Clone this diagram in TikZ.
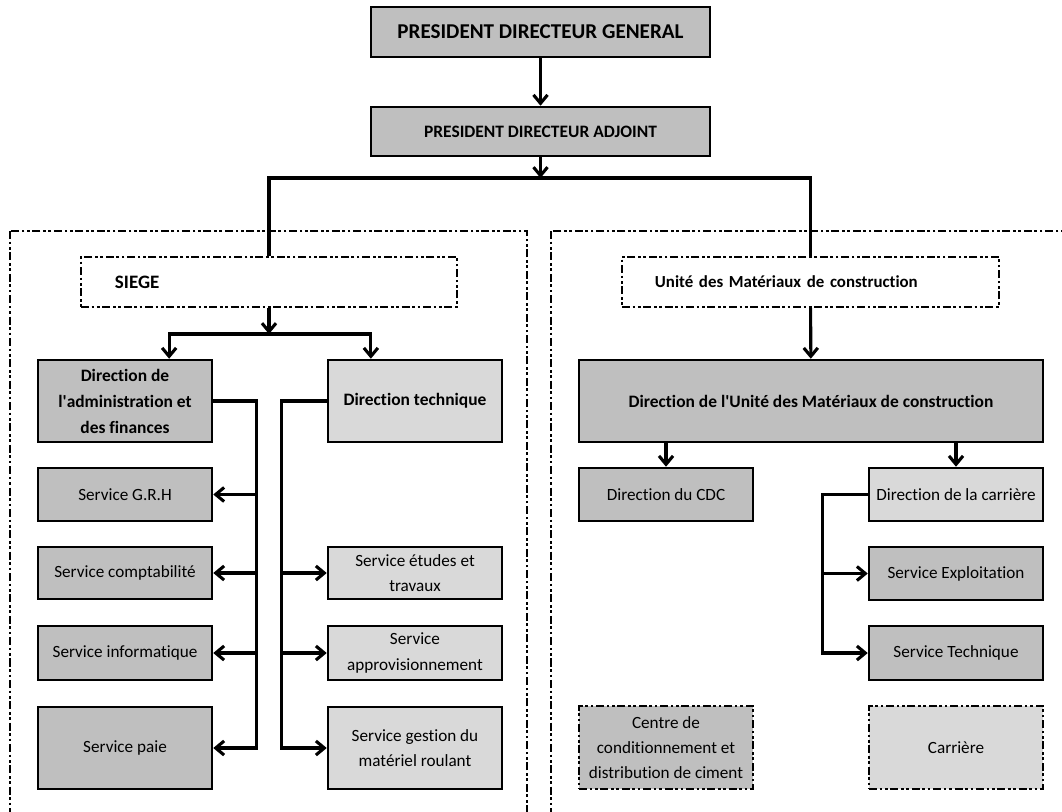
\documentclass[tikz,border=0pt]{standalone}
\usepackage{fontspec}
\setmainfont{Carlito}[Ligatures=CommonOff]
\usetikzlibrary{arrows.meta,calc}
\definecolor{boxgray}{RGB}{191,191,191}
\definecolor{boxlight}{RGB}{217,217,217}

\begin{document}
\begin{tikzpicture}[x=0.025cm,y=-0.025cm,
    box/.style={draw,line width=1.8pt,fill=boxgray,align=center,inner sep=0pt,font=\fontsize{12.2}{18}\selectfont},
    lbox/.style={box,fill=boxlight},
    hd/.style={font=\fontsize{12.4}{18.5}\selectfont\bfseries},
    wh/.style 2 args={minimum width=#1*0.025cm,minimum height=#2*0.025cm},
    dashdot/.style={line width=1.6pt,dash pattern=on 5.7pt off 1.9pt on 1.9pt off 1.9pt on 1.9pt off 1.9pt},
    link/.style={line width=2.2pt},
    arr/.style={link,-{Straight Barb[length=6pt,width=10pt]}}]
            \useasboundingbox (0,0) rectangle (1062,811); \clip (0,0) rectangle (1062,811);
            \draw[dashdot] (10,231) rectangle (527,830); \draw[dashdot] (551,231) rectangle (1090,830);

            \draw (540.5,32) node[box,wh={339}{50},font=\fontsize{15}{18}\selectfont\bfseries] (pdg) {PRESIDENT DIRECTEUR GENERAL};
            \draw (540.5,131.5) node[box,hd,wh={339}{49}] (pda) {PRESIDENT DIRECTEUR ADJOINT};
            \coordinate (bar) at (540.5,178);
            \draw[arr] (pdg) -- (pda); \draw[arr] (pda) -- (bar);

            % siege
            \draw (269,282) node[box,dashdot,fill=white,font=\fontsize{13.5}{18}\selectfont\bfseries,align=left,text width=7.7cm,inner xsep=0.85cm,minimum height=1.25cm] (siege) {SIEGE};
            \draw (125,401) node[box,hd,wh={174}{82}] (dadm) {Direction de\\l\textquotesingle administration et\\des finances};
            \draw (415,401) node[lbox,hd,wh={174}{82}] (dtech) {Direction technique};
            \draw (125,494.5) node[box,wh={174}{53}] (grh) {Service G.R.H}; \draw (125,573) node[box,wh={174}{52}] (compta) {Service comptabilité};
            \draw (125,653) node[box,wh={174}{54}] (info) {Service informatique}; \draw (125,748) node[box,wh={174}{82}] (paie) {Service paie};
            \draw (415,573) node[lbox,wh={174}{52}] (etudes) {Service études et\\travaux}; \draw (415,653) node[lbox,wh={174}{54}] (appro) {Service\\approvisionnement};
            \draw (415,748) node[lbox,wh={174}{82}] (gestion) {Service gestion du\\matériel roulant};

            % unite
            \draw (810.5,282) node[box,dashdot,fill=white,font=\fontsize{12}{18}\selectfont\bfseries,align=left,text width=7.775cm,inner xsep=0.825cm,minimum height=1.25cm] (unite) {Unité des Matériaux de construction};
            \draw (811,401) node[box,hd,wh={464}{82}] (dumc) {Direction de l\textquotesingle Unité des Matériaux de construction};
            \draw (666,494.5) node[box,wh={174}{53}] (dcdc) {Direction du CDC}; \draw (956,494.5) node[lbox,wh={174}{53}] (dcar) {Direction de la carrière};
            \draw (956,573.5) node[box,wh={174}{53}] (expl) {Service Exploitation}; \draw (956,653) node[box,wh={174}{54}] (stech) {Service Technique};
            \draw (666,747.5) node[box,dashdot,wh={174}{83}] (centre) {Centre de\\conditionnement et\\distribution de ciment};
            \draw (956,747.5) node[lbox,dashdot,wh={174}{83}] (carr) {Carrière};

            \draw[link] (siege.north) |- (bar) -| (unite.north);
            \coordinate (split) at (269,334); \draw[arr] (siege) -- (split);
            \draw[arr] (split) -| ($(dadm.north west)!0.75!(dadm.north east)$); \draw[arr] (split) -| ($(dtech.north west)!0.25!(dtech.north east)$);
            \draw[arr] (dadm.east) -- ++(43,0) coordinate (aspine) |- (paie.east);
            \foreach \s in {grh,compta,info} \draw[arr] (aspine |- \s.east) -- (\s.east);
            \draw[arr] (dtech.west) -- ++(-45,0) coordinate (tspine) |- (gestion.west);
            \foreach \s in {etudes,appro} \draw[arr] (tspine |- \s.west) -- (\s.west);

            \draw[arr] (unite) -- (dumc);
            \draw[arr] (dumc.south -| dcdc.north) -- (dcdc); \draw[arr] (dumc.south -| dcar.north) -- (dcar);
            \draw[arr] (dcar.west) -- ++(-45,0) coordinate (cspine) |- (stech.west);
            \draw[arr] (cspine |- expl.west) -- (expl.west);
\end{tikzpicture}
\end{document}
